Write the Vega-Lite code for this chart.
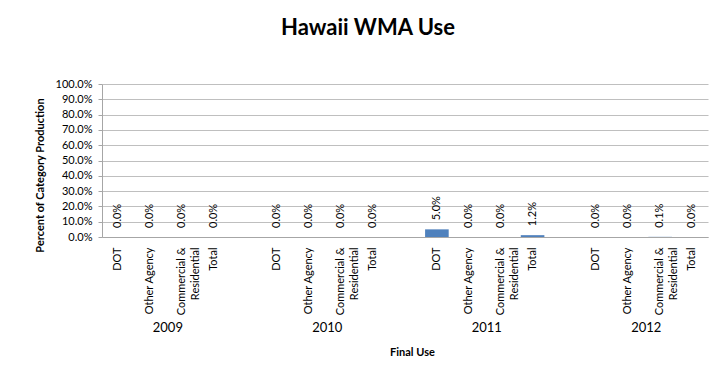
{
  "$schema": "https://vega.github.io/schema/vega-lite/v6.json",
  "width": 606,
  "height": 153,
  "autosize": {"type": "none"},
  "padding": {"left": 102, "top": 84, "right": 19, "bottom": 134},
  "background": "white",
  "title": {
    "text": "Hawaii WMA Use",
    "font": "Lato",
    "fontSize": 22,
    "fontWeight": "bold",
    "color": "#000000",
    "anchor": "middle",
    "baseline": "alphabetic",
    "offset": 21,
    "dx": -37
  },
  "config": {
    "view": {"stroke": null},
    "font": "Lato",
    "axisY": {
      "format": ".1%",
      "labelOverlap": false,
      "labelFont": "Lato",
      "labelFontSize": 11,
      "labelColor": "#000000",
      "labelPadding": 6,
      "tickSize": 4,
      "tickColor": "#a6a6a6",
      "domainColor": "#a6a6a6",
      "gridColor": "#bfbfbf",
      "gridWidth": 1,
      "titleFont": "Lato",
      "titleFontSize": 11,
      "titleFontWeight": "bold",
      "titleColor": "#000000",
      "titleX": -62,
      "titleY": 91,
      "titleAngle": 270,
      "titleAlign": "center",
      "titleBaseline": "middle"
    },
    "axisX": {
      "titleFont": "Lato",
      "titleFontSize": 11,
      "titleFontWeight": "bold",
      "titleColor": "#000000",
      "titleX": 310,
      "titleY": 115,
      "titleBaseline": "middle",
      "labelAngle": 270,
      "labelAlign": "right",
      "labelBaseline": "middle",
      "labelFont": "Lato",
      "labelFontSize": 11,
      "labelColor": "#000000",
      "labelLineHeight": 14,
      "labelPadding": 10,
      "labelOverlap": false,
      "ticks": false,
      "domainColor": "#a6a6a6",
      "grid": false
    }
  },
  "data": {
    "values": [
      {"key": "2009|DOT", "year": "2009", "cat": "DOT", "value": 0},
      {"key": "2009|Other Agency", "year": "2009", "cat": "Other Agency", "value": 0},
      {"key": "2009|Commercial & Residential", "year": "2009", "cat": "Commercial & Residential", "value": 0},
      {"key": "2009|Total", "year": "2009", "cat": "Total", "value": 0},
      {"key": "gap1", "year": "", "cat": "", "value": null},
      {"key": "2010|DOT", "year": "2010", "cat": "DOT", "value": 0},
      {"key": "2010|Other Agency", "year": "2010", "cat": "Other Agency", "value": 0},
      {"key": "2010|Commercial & Residential", "year": "2010", "cat": "Commercial & Residential", "value": 0},
      {"key": "2010|Total", "year": "2010", "cat": "Total", "value": 0},
      {"key": "gap2", "year": "", "cat": "", "value": null},
      {"key": "2011|DOT", "year": "2011", "cat": "DOT", "value": 0.05},
      {"key": "2011|Other Agency", "year": "2011", "cat": "Other Agency", "value": 0},
      {"key": "2011|Commercial & Residential", "year": "2011", "cat": "Commercial & Residential", "value": 0},
      {"key": "2011|Total", "year": "2011", "cat": "Total", "value": 0.012},
      {"key": "gap3", "year": "", "cat": "", "value": null},
      {"key": "2012|DOT", "year": "2012", "cat": "DOT", "value": 0},
      {"key": "2012|Other Agency", "year": "2012", "cat": "Other Agency", "value": 0},
      {"key": "2012|Commercial & Residential", "year": "2012", "cat": "Commercial & Residential", "value": 0.001},
      {"key": "2012|Total", "year": "2012", "cat": "Total", "value": 0}
    ]
  },
  "encoding": {
    "x": {
      "field": "key",
      "type": "nominal",
      "title": "Final Use",
      "scale": {
        "domain": [
          "2009|DOT", "2009|Other Agency", "2009|Commercial & Residential", "2009|Total", "gap1",
          "2010|DOT", "2010|Other Agency", "2010|Commercial & Residential", "2010|Total", "gap2",
          "2011|DOT", "2011|Other Agency", "2011|Commercial & Residential", "2011|Total", "gap3",
          "2012|DOT", "2012|Other Agency", "2012|Commercial & Residential", "2012|Total"
        ],
        "paddingInner": 0.26,
        "paddingOuter": 0.13
      },
      "axis": {
        "labelExpr": "indexof(datum.value, 'gap') >= 0 ? '' : (indexof(datum.value, 'Commercial') >= 0 ? ['Commercial &', 'Residential'] : split(datum.value, '|')[1])"
      }
    }
  },
  "layer": [
    {
      "transform": [{"filter": "datum.value != null"}],
      "mark": {"type": "bar", "color": "#4F81BD"},
      "encoding": {
        "y": {
          "field": "value",
          "type": "quantitative",
          "title": "Percent of Category Production",
          "scale": {"domain": [0, 1], "nice": false, "zero": true},
          "axis": {"values": [0, 0.1, 0.2, 0.3, 0.4, 0.5, 0.6, 0.7, 0.8, 0.9, 1.0]}
        }
      }
    },
    {
      "transform": [{"filter": "datum.value != null"}],
      "mark": {"type": "text", "angle": 270, "align": "left", "baseline": "middle", "dx": 9, "font": "Lato", "fontSize": 11, "color": "#000000"},
      "encoding": {
        "y": {"field": "value", "type": "quantitative", "title": "Percent of Category Production", "axis": {"values": [0, 0.1, 0.2, 0.3, 0.4, 0.5, 0.6, 0.7, 0.8, 0.9, 1.0]}},
        "text": {"field": "value", "type": "quantitative", "format": ".1%"}
      }
    },
    {
      "transform": [{"filter": "datum.cat == 'Other Agency'"}],
      "mark": {"type": "text", "align": "center", "baseline": "middle", "dx": 18, "dy": 91, "font": "Lato", "fontSize": 13, "color": "#000000"},
      "encoding": {
        "y": {"datum": 0, "type": "quantitative", "title": "Percent of Category Production", "axis": {"values": [0, 0.1, 0.2, 0.3, 0.4, 0.5, 0.6, 0.7, 0.8, 0.9, 1.0]}},
        "text": {"field": "year", "type": "nominal"}
      }
    }
  ]
}
